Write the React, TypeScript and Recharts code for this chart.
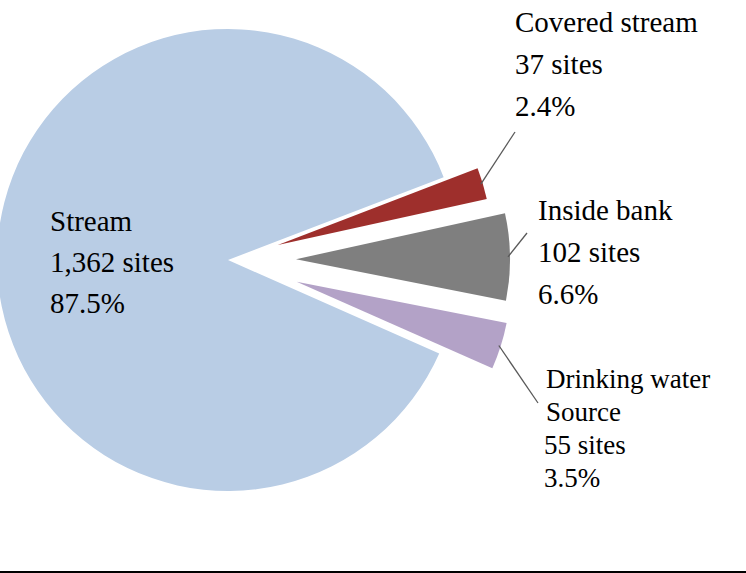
import React from "react";
import { PieChart, Pie, Cell } from "recharts";

// slice order follows the pie counter-clockwise from the stream's upper edge
const names = ["Stream", "Drinking water Source", "Inside bank", "Covered stream"];
const sites = [1362, 55, 102, 37];
const shares = ["87.5%", "3.5%", "6.6%", "2.4%"];
const siteLabels = ["1,362 sites", "55 sites", "102 sites", "37 sites"];
const nameLines = [["Stream"], ["Drinking water", "Source"], ["Inside bank"], ["Covered stream"]];

const COLORS = ["#b9cde5", "#b3a2c7", "#7f7f7f", "#9e2f2c"];
const EXPLODE = [0, 72, 68, 52];
const RADIUS = [231, 214, 214, 214];

const W = 746;
const H = 573;
const CX = 228;
const CY = 260;
const START = 21;
const FONT = "Liberation Serif, Times New Roman, serif";
const RAD = Math.PI / 180;

// label blocks: text anchor, line height, font size, leader line end
const LABEL_LAYOUT = [
  { x: 50, y: 231, lh: 41, fs: 29, lineEnd: null as null | [number, number] },
  { x: 546, y: 388, lh: 33, fs: 27, lineEnd: [538, 403] as [number, number] },
  { x: 538, y: 220, lh: 42, fs: 29, lineEnd: [527, 233] as [number, number] },
  { x: 515, y: 32, lh: 42, fs: 29, lineEnd: [515, 132] as [number, number] },
];

const data = names.map((name, i) => ({ name, value: sites[i] }));
const total = sites.reduce((a, b) => a + b, 0);

// mid angle of each slice, used only to push small slices out of the pie
const midAngles: number[] = [];
{
  let acc = START;
  sites.forEach((v) => {
    const span = (v / total) * 360;
    midAngles.push(acc + span / 2);
    acc += span;
  });
}

function makeLabel(slice: number) {
  return (props: any) => {
    if (props.index !== slice) return null;
    const layout = LABEL_LAYOUT[slice];
    const lines = [...nameLines[slice], siteLabels[slice], shares[slice]];
    const ax = props.cx + (props.outerRadius - 2) * Math.cos(-props.midAngle * RAD);
    const ay = props.cy + (props.outerRadius - 2) * Math.sin(-props.midAngle * RAD);
    return (
      <g key={`lbl-${slice}`}>
        {layout.lineEnd && (
          <line x1={ax} y1={ay} x2={layout.lineEnd[0]} y2={layout.lineEnd[1]} stroke="#595959" strokeWidth={1.3} />
        )}
        {lines.map((t, k) => (
          <text
            key={k}
            x={slice === 1 && k >= 2 ? layout.x - 2 : layout.x}
            y={layout.y + k * layout.lh}
            fontSize={layout.fs}
            fill="#000"
            textAnchor="start"
            style={{ fontFamily: FONT }}
          >
            {t}
          </text>
        ))}
      </g>
    );
  };
}

export default function App() {
  return (
    <div style={{ position: "absolute", left: 0, top: 0, width: W, height: H, background: "#fff" }}>
      <PieChart width={W} height={H} margin={{ top: 0, right: 0, bottom: 0, left: 0 }}>
        {data.map((_, slice) => {
          const d = EXPLODE[slice];
          const a = midAngles[slice] * RAD;
          return (
            <Pie
              key={slice}
              data={data}
              dataKey="value"
              nameKey="name"
              cx={CX + d * Math.cos(a)}
              cy={CY - d * Math.sin(a)}
              outerRadius={RADIUS[slice]}
              innerRadius={0}
              startAngle={START}
              endAngle={START + 360}
              stroke="none"
              labelLine={false}
              label={makeLabel(slice)}
              isAnimationActive={false}
            >
              {data.map((__, i) => (
                <Cell key={i} fill={i === slice ? COLORS[i] : "transparent"} stroke="none" />
              ))}
            </Pie>
          );
        })}
      </PieChart>
      <div style={{ position: "absolute", left: 0, top: 571, width: W, height: 2, background: "#000" }} />
    </div>
  );
}
